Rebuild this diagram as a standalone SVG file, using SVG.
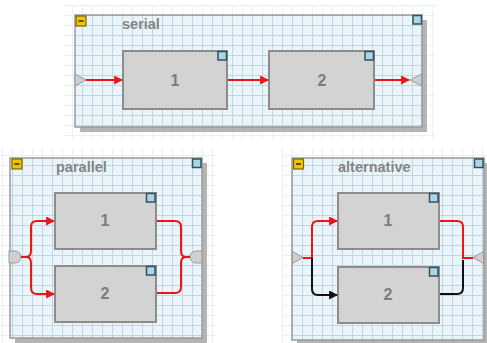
<svg xmlns="http://www.w3.org/2000/svg" width="487" height="343" viewBox="0 0 487 343">
  <style>
    .halo { fill: url(#grid); opacity: 0.35; }
    .shadow { fill: #b4b4b4; }
    .panel { fill: #e9f5fa; }
    .panelgrid { fill: url(#grid); }
    .frame { fill: none; stroke: #9a9a9a; stroke-width: 1.5; }
    .title { font-family: "Liberation Sans", Arial, sans-serif; font-weight: bold; font-size: 14.5px; fill: #858585; }
    .box { fill: #d3d3d3; stroke: #8c8c8c; stroke-width: 2; }
    .num { font-family: "Liberation Sans", Arial, sans-serif; font-weight: bold; font-size: 16px; fill: #7c7c7c; text-anchor: middle; }
    .corner { fill: #a9d6e5; stroke: #34505e; stroke-width: 1.5; }
    .btn { fill: #f0c400; stroke: #7a6400; stroke-width: 1.2; }
    .minus { stroke: #5e4e00; stroke-width: 2; }
    .port { fill: #cfcfcf; stroke: #9a9a9a; stroke-width: 1; }
    .red { fill: none; stroke: #ec1515; stroke-width: 2; }
    .blk { fill: none; stroke: #111111; stroke-width: 2; }
  </style>
  <defs>
    <pattern id="grid" patternUnits="userSpaceOnUse" x="2" y="5" width="10" height="10">
      <path d="M0.5 0 V10 M0 0.5 H10" stroke="#c3d6e0" stroke-width="1" fill="none"/>
    </pattern>
    <marker id="arrRed" viewBox="0 0 8 8" refX="7" refY="4" markerWidth="4.5" markerHeight="4.5" orient="auto" markerUnits="strokeWidth">
      <path d="M0 0 L8 4 L0 8 z" fill="#ec1515"/>
    </marker>
    <marker id="arrBlk" viewBox="0 0 8 8" refX="7" refY="4" markerWidth="4.5" markerHeight="4.5" orient="auto" markerUnits="strokeWidth">
      <path d="M0 0 L8 4 L0 8 z" fill="#111111"/>
    </marker>
  </defs>

  <rect width="487" height="343" fill="#ffffff"/>

  <!-- serial container -->
  <g id="serial">
    <rect class="halo" x="64" y="5" width="372" height="134"/>
    <rect class="shadow" x="80" y="20" width="347" height="112"/>
    <rect class="panel" x="75" y="15" width="347" height="112"/>
    <rect class="panelgrid" x="75" y="15" width="347" height="112"/>
    <rect class="frame" x="75" y="15" width="347" height="112"/>
    <rect class="btn" x="76" y="16" width="10" height="10"/>
    <line class="minus" x1="78.5" y1="21" x2="83.5" y2="21"/>
    <rect class="corner" x="413" y="15.5" width="8.5" height="8.5"/>
    <text class="title" x="122" y="29">serial</text>
    <polygon class="port" points="75,74 86,80 75,86"/>
    <polygon class="port" points="421.5,74 410,80 421.5,86"/>
  </g>
  <g id="serial-1">
    <rect class="box" x="123" y="51" width="104" height="58"/>
    <rect class="corner" x="218" y="51.5" width="8.5" height="8.5"/>
    <text class="num" x="175" y="86">1</text>
  </g>
  <g id="serial-2">
    <rect class="box" x="269" y="51" width="105" height="58"/>
    <rect class="corner" x="365" y="51.5" width="8.5" height="8.5"/>
    <text class="num" x="322" y="86">2</text>
  </g>

  <!-- parallel container -->
  <g id="parallel">
    <rect class="halo" x="0" y="148" width="216" height="195"/>
    <rect class="shadow" x="15" y="163" width="192" height="180"/>
    <rect class="panel" x="10" y="158" width="192" height="180"/>
    <rect class="panelgrid" x="10" y="158" width="192" height="180"/>
    <rect class="frame" x="10" y="158" width="192" height="180"/>
    <rect class="btn" x="12" y="159" width="10" height="10"/>
    <line class="minus" x1="14.5" y1="164" x2="19.5" y2="164"/>
    <rect class="corner" x="192.5" y="159" width="8.5" height="8.5"/>
    <text class="title" x="56" y="172">parallel</text>
    <path class="port" d="M9 251 H15 A6 6 0 0 1 15 263 H9 Z"/>
    <path class="port" d="M202 251 H196 A6 6 0 0 0 196 263 H202 Z"/>
  </g>
  <g id="parallel-1">
    <rect class="box" x="55" y="193" width="101" height="56"/>
    <rect class="corner" x="146.5" y="193.5" width="8.5" height="8.5"/>
    <text class="num" x="105" y="226">1</text>
  </g>
  <g id="parallel-2">
    <rect class="box" x="55" y="266" width="101" height="56"/>
    <rect class="corner" x="146.5" y="266.5" width="8.5" height="8.5"/>
    <text class="num" x="105" y="299">2</text>
  </g>

  <!-- alternative container -->
  <g id="alternative">
    <rect class="halo" x="282" y="148" width="205" height="195"/>
    <rect class="shadow" x="297" y="163" width="192" height="182"/>
    <rect class="panel" x="292" y="158" width="192" height="182"/>
    <rect class="panelgrid" x="292" y="158" width="192" height="182"/>
    <rect class="frame" x="292" y="158" width="192" height="182"/>
    <rect class="btn" x="293.5" y="159" width="10" height="10"/>
    <line class="minus" x1="296" y1="164" x2="301" y2="164"/>
    <rect class="corner" x="474.5" y="159" width="8.5" height="8.5"/>
    <text class="title" x="338" y="172">alternative</text>
    <polygon class="port" points="292.5,251.5 303,257.5 292.5,263.5"/>
    <polygon class="port" points="483.5,251.5 473,257.5 483.5,263.5"/>
  </g>
  <g id="alternative-1">
    <rect class="box" x="338" y="193" width="101" height="56"/>
    <rect class="corner" x="429.5" y="193.5" width="8.5" height="8.5"/>
    <text class="num" x="388" y="226">1</text>
  </g>
  <g id="alternative-2">
    <rect class="box" x="338" y="267" width="101" height="56"/>
    <rect class="corner" x="429.5" y="267.5" width="8.5" height="8.5"/>
    <text class="num" x="388" y="300">2</text>
  </g>

  <!-- connectors -->
  <g id="connectors">
    <!-- serial chain -->
    <path class="red" d="M86 80 H122" marker-end="url(#arrRed)"/>
    <path class="red" d="M228 80 H268" marker-end="url(#arrRed)"/>
    <path class="red" d="M375 80 H409" marker-end="url(#arrRed)"/>

    <!-- parallel fork -->
    <path class="red" d="M21 257 H26 Q31 257 31 251 V227 Q31 221 37 221 H54" marker-end="url(#arrRed)"/>
    <path class="red" d="M26 257 Q31 257 31 263 V288 Q31 294 37 294 H54" marker-end="url(#arrRed)"/>
    <!-- parallel join -->
    <path class="red" d="M157 221 H175 Q181 221 181 227 V251 Q181 257 186 257 H190"/>
    <path class="red" d="M157 293 H175 Q181 293 181 287 V263 Q181 257 186 257"/>

    <!-- alternative branch -->
    <path class="red" d="M303 258 H312 V227 Q312 221 318 221 H337" marker-end="url(#arrRed)"/>
    <path class="blk" d="M312 258 V289 Q312 295 318 295 H337" marker-end="url(#arrBlk)"/>
    <!-- alternative merge -->
    <path class="red" d="M440 221 H457 Q463 221 463 227 V258 H473"/>
    <path class="blk" d="M440 294 H457 Q463 294 463 288 V260"/>
  </g>
</svg>
